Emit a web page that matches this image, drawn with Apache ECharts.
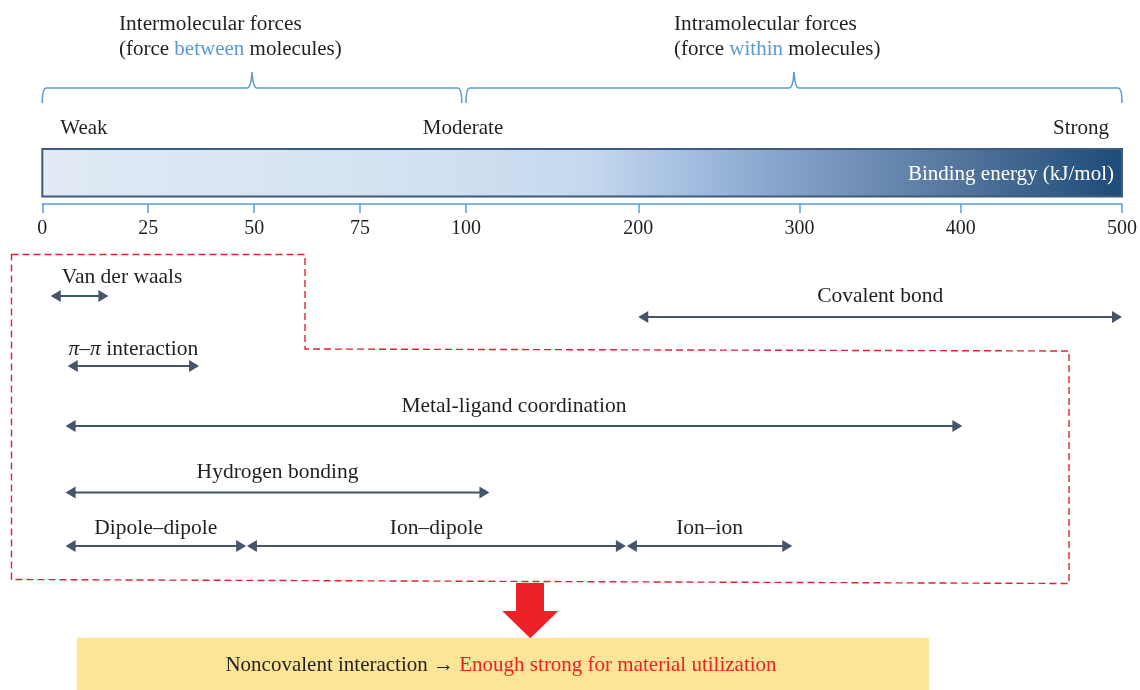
<!DOCTYPE html>
<html><head><meta charset="utf-8">
<script src="https://cdn.jsdelivr.net/npm/echarts@6/dist/echarts.min.js"></script>
<style>html,body{margin:0;padding:0;background:#fff}#c{width:1140px;height:690px}</style>
</head><body><div id="c"></div>
<script>
// ---------------- data ----------------
const tickValues = [0, 25, 50, 75, 100, 200, 300, 400, 500];
const interactionNames = ['Van der waals', '{i|π}–{i|π} interaction', 'Covalent bond', 'Metal-ligand coordination', 'Hydrogen bonding', 'Dipole–dipole', 'Ion–dipole', 'Ion–ion'];
const rangeStart = [2, 6, 200, 5.5, 5.5, 5.5, 48.3, 193.4];
const rangeEnd = [15.6, 37, 500, 401, 113.6, 48.1, 192.8, 295.5];
const strengthLabels = ['Weak', 'Moderate', 'Strong'];
const strengthValues = [0, 100, 500];
const forceGroups = ['Intermolecular forces', 'Intramolecular forces'];
const forceSubtitles = ['(force {b|between} molecules)', '(force {b|within} molecules)'];
const forceStart = [0, 100];
const forceEnd = [99, 500];
const axisName = 'Binding energy (kJ/mol)';
const conclusionLeft = 'Noncovalent interaction → ';
const conclusionRight = 'Enough strong for material utilization';

// ---------------- layout / style ----------------
const FONT = '"Liberation Serif", "Times New Roman", serif';
const ARROW = '#44546a';
const BLUE = '#5b9bd5';
const TXT = '#231f20';
const ARROW_Y = [296, 366, 317, 426, 492.5, 546, 546, 546];
const LABEL_Y = [277, 349, 296, 406, 472, 528, 528, 528];
const LABEL_ALIGN = ['left', 'center', 'center', 'center', 'center', 'center', 'center', 'center'];
const LABEL_DX = [11, 0, 0, 0, 0, 0, 0, 0];
const STRENGTH_ALIGN = ['left', 'center', 'right'];
const STRENGTH_DX = [18, -3, -13];
const TITLE_X = [119, 674];

// piecewise-linear axis scale (segments drawn with different widths in the figure)
const SCALE_V = [0, 100, 200, 500];
const SCALE_T = [0, 100, 140.66, 254.83];
function tx(v) {
  for (let i = 1; i < SCALE_V.length; i++) {
    if (v <= SCALE_V[i] || i === SCALE_V.length - 1)
      return SCALE_T[i - 1] + (v - SCALE_V[i - 1]) * (SCALE_T[i] - SCALE_T[i - 1]) / (SCALE_V[i] - SCALE_V[i - 1]);
  }
}
function itx(t) {
  for (let i = 1; i < SCALE_T.length; i++) {
    if (t <= SCALE_T[i] + 1e-9 || i === SCALE_T.length - 1)
      return SCALE_V[i - 1] + (t - SCALE_T[i - 1]) * (SCALE_V[i] - SCALE_V[i - 1]) / (SCALE_T[i] - SCALE_T[i - 1]);
  }
}
const TMAX = tx(500);

const chart = echarts.init(document.getElementById('c'));

const option = {
  animation: false,
  backgroundColor: '#fff',
  grid: { left: 42.3, right: 16.5, top: 149, height: 55 },
  xAxis: {
    type: 'value', min: 0, max: TMAX, position: 'bottom',
    splitLine: { show: false },
    axisLine: { lineStyle: { color: BLUE, width: 1.5 } },
    axisTick: { customValues: tickValues.map(tx), length: 9, lineStyle: { color: BLUE, width: 1.5 } },
    axisLabel: {
      customValues: tickValues.map(tx), margin: 15,
      formatter: v => String(Math.round(itx(v))),
      color: TXT, fontFamily: FONT, fontSize: 20
    }
  },
  yAxis: { type: 'value', min: 0, max: 1, show: false },
  series: [
    { // gradient bar
      type: 'custom', clip: false, silent: true,
      data: [[0, TMAX]],
      renderItem: (params, api) => {
        const cs = params.coordSys;
        const x0 = api.coord([api.value(0), 0])[0];
        const x1 = api.coord([api.value(1), 0])[0];
        return {
          type: 'group', children: [
            { type: 'rect', shape: { x: x0, y: cs.y, width: x1 - x0, height: 47.5 },
              style: { fill: new echarts.graphic.LinearGradient(0, 0, 1, 0, [
                { offset: 0, color: '#e1eaf5' }, { offset: 0.35, color: '#d2e1f1' },
                { offset: 0.5, color: '#c6d9ee' }, { offset: 0.54, color: '#b8cee8' },
                { offset: 0.6, color: '#a2bddf' }, { offset: 0.7, color: '#819fc7' },
                { offset: 0.84, color: '#56789f' }, { offset: 1, color: '#1d4a78' }]),
                stroke: '#3f5b7b', lineWidth: 2 } },
            { type: 'text', style: { text: axisName, x: x1 - 8, y: cs.y + 25, align: 'right', verticalAlign: 'middle',
              fill: '#ffffff', font: '21px ' + FONT } }
          ]
        };
      }
    },
    { // strength labels
      type: 'custom', clip: false, silent: true,
      data: strengthValues.map(v => [tx(v)]),
      renderItem: (params, api) => {
        const i = params.dataIndex;
        const x = api.coord([api.value(0), 0])[0];
        return { type: 'text', style: { text: strengthLabels[i], x: x + STRENGTH_DX[i], y: 128,
          align: STRENGTH_ALIGN[i], verticalAlign: 'middle', fill: TXT, font: '21px ' + FONT } };
      }
    },
    { // braces
      type: 'custom', clip: false, silent: true,
      data: forceStart.map((s, i) => [tx(s), tx(forceEnd[i])]),
      renderItem: (params, api) => {
        const a = api.coord([api.value(0), 0])[0];
        const b = api.coord([api.value(1), 0])[0];
        const m = (a + b) / 2, yT = 88, yB = 103, yC = 72, r = 4;
        const path = `M${a},${yB} Q${a},${yT} ${a + r},${yT} L${m - 5},${yT} Q${m - 1},${yT} ${m},${yC} ` +
          `Q${m + 1},${yT} ${m + 5},${yT} L${b - r},${yT} Q${b},${yT} ${b},${yB}`;
        return { type: 'path', shape: { pathData: path }, style: { fill: null, stroke: BLUE, lineWidth: 1.6 } };
      }
    },
    { // interaction range arrows
      type: 'custom', clip: false, silent: true,
      data: rangeStart.map((s, i) => [tx(s), tx(rangeEnd[i])]),
      renderItem: (params, api) => {
        const i = params.dataIndex;
        const x1 = api.coord([api.value(0), 0])[0];
        const x2 = api.coord([api.value(1), 0])[0];
        const y = ARROW_Y[i], hl = 10, hh = 6;
        const lx = LABEL_ALIGN[i] === 'left' ? x1 + LABEL_DX[i] : (x1 + x2) / 2;
        return {
          type: 'group', children: [
            { type: 'line', shape: { x1: x1 + hl - 1, y1: y, x2: x2 - hl + 1, y2: y }, style: { stroke: ARROW, lineWidth: 2 } },
            { type: 'polygon', shape: { points: [[x1, y], [x1 + hl, y - hh], [x1 + hl, y + hh]] }, style: { fill: ARROW } },
            { type: 'polygon', shape: { points: [[x2, y], [x2 - hl, y - hh], [x2 - hl, y + hh]] }, style: { fill: ARROW } },
            { type: 'text', style: { text: interactionNames[i], x: lx, y: LABEL_Y[i], align: LABEL_ALIGN[i], verticalAlign: 'middle',
              fill: TXT, font: '21.5px ' + FONT,
              rich: { i: { fontStyle: 'italic', fontFamily: FONT, fontSize: 21.5, fill: TXT } } } }
          ]
        };
      }
    }
  ],
  graphic: [
    ...forceGroups.map((g, i) => ({ type: 'text', x: TITLE_X[i], y: 24, style: { text: g, verticalAlign: 'middle', fill: TXT, font: '21.3px ' + FONT } })),
    ...forceSubtitles.map((g, i) => ({ type: 'text', x: TITLE_X[i], y: 49, style: { text: g, verticalAlign: 'middle', fill: TXT, font: '21px ' + FONT,
      rich: { b: { fill: BLUE, fontFamily: FONT, fontSize: 21 } } } })),
    { type: 'polygon', shape: { points: [[11.5, 254.5], [305, 254.5], [305, 349], [1069, 351], [1069, 583.5], [11.5, 579.5]] },
      style: { fill: null, stroke: '#dc2430', lineWidth: 1.4, lineDash: [7, 4] } },
    { type: 'rect', shape: { x: 76.8, y: 637.7, width: 852, height: 53 }, style: { fill: '#fce597' } },
    { type: 'polygon', shape: { points: [[516, 583], [544, 583], [544, 611], [558.3, 611], [530.3, 638.3], [502.3, 611], [516, 611]] },
      style: { fill: '#ee2028' } },
    { type: 'text', x: 501, y: 665, style: { text: '{k|' + conclusionLeft + '}{r|' + conclusionRight + '}', align: 'center', verticalAlign: 'middle',
      font: '21px ' + FONT,
      rich: { k: { fill: TXT, fontFamily: FONT, fontSize: 21 }, r: { fill: '#ee2028', fontFamily: FONT, fontSize: 21 } } } }
  ]
};
chart.setOption(option);
</script>
</body></html>
